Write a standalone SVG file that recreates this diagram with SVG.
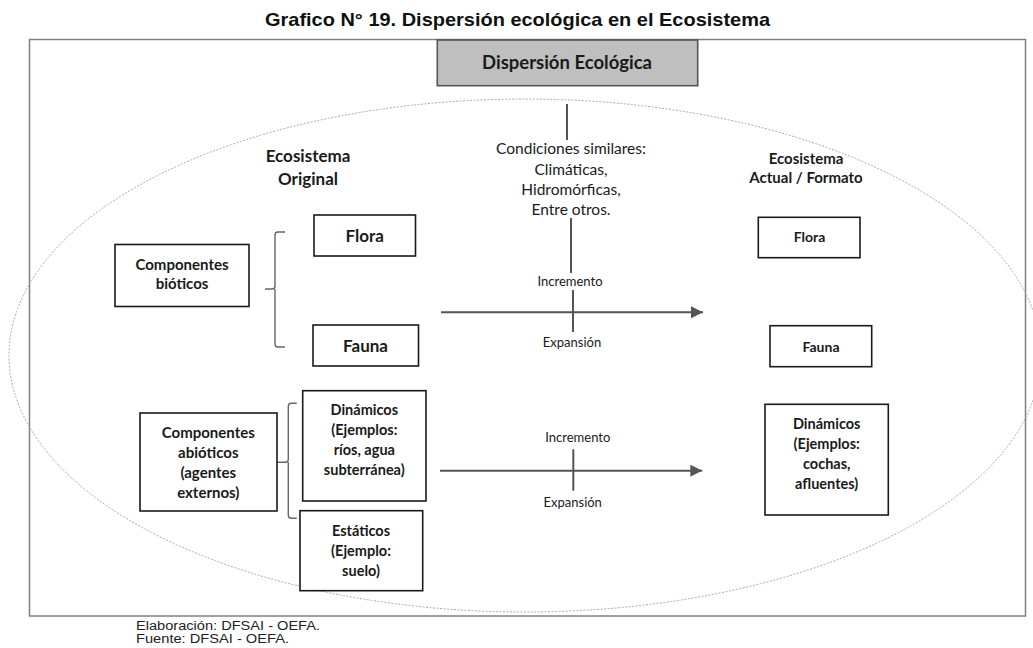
<svg xmlns="http://www.w3.org/2000/svg" width="1033" height="648" viewBox="0 0 1033 648">
<style>
.box{fill:#fff;stroke:#1a1a1a;stroke-width:1.6}
.hdr{fill:#bfbfbf;stroke:#555;stroke-width:1.6}
.b{font-family:Lato,"Open Sans",sans-serif;font-weight:bold;fill:#1a1a1a;text-anchor:middle}
.r{font-family:Lato,"Open Sans",sans-serif;fill:#1a1a1a;text-anchor:middle}
.ln{stroke:#555;stroke-width:2;fill:none}
.br{stroke:#666;stroke-width:1.4;fill:none}
.ttl{font-family:"Liberation Sans",Arial,sans-serif;font-weight:bold;fill:#111;text-anchor:middle}
.ft{font-family:"Liberation Sans",Arial,sans-serif;fill:#222}
</style>
<defs>
<marker id="ah" markerWidth="12" markerHeight="12" refX="12" refY="6" orient="auto" markerUnits="userSpaceOnUse">
<path d="M0,0 L12,6 L0,12 Z" fill="#555"/>
</marker>
</defs>
<rect width="1033" height="648" fill="#fff"/>
<text class="ttl" x="517.5" y="26" font-size="19" textLength="505" lengthAdjust="spacingAndGlyphs">Grafico N° 19. Dispersión ecológica en el Ecosistema</text>
<rect x="29.5" y="39.5" width="996" height="576.5" fill="none" stroke="#808080" stroke-width="1.5"/>
<ellipse cx="525" cy="355.5" rx="516" ry="256.5" fill="none" stroke="#a8a8a8" stroke-width="1" stroke-dasharray="2 1.5"/>

<g id="header">
<rect class="hdr" x="437.3" y="40" width="260.4" height="45.7"/>
<text class="b" x="567" y="69" font-size="18.5">Dispersión Ecológica</text>
</g>

<g id="connectors">
<line class="ln" x1="567" y1="104" x2="567" y2="140"/>
<line class="ln" x1="571" y1="218" x2="571" y2="273"/>
<line class="ln" x1="573" y1="290" x2="573" y2="332"/>
<line class="ln" x1="441" y1="312.3" x2="703" y2="312.3" marker-end="url(#ah)"/>
<line class="ln" x1="573.3" y1="449.3" x2="573.3" y2="490.7"/>
<line class="ln" x1="440" y1="470.7" x2="702.3" y2="470.7" marker-end="url(#ah)"/>
<path class="br" d="M285,232 H278 Q275,232 275,235 V286 Q275,289 272,289 H265 M275,289 V344 Q275,347 278,347 H285"/>
<path class="br" d="M296.7,403.3 H291.3 Q288.3,403.3 288.3,406.3 V459.3 Q288.3,462.3 285.3,462.3 H277 M288.3,462.3 V515.3 Q288.3,518.3 291.3,518.3 H296.7"/>
</g>

<g id="cond">
<text class="r" x="571" y="154" font-size="15.5">Condiciones similares:</text>
<text class="r" x="571" y="175" font-size="15.5">Climáticas,</text>
<text class="r" x="571" y="195" font-size="15.5">Hidromórficas,</text>
<text class="r" x="571" y="215" font-size="15.5">Entre otros.</text>
</g>
<g id="lbl1">
<text class="r" x="570" y="286" font-size="13">Incremento</text>
<text class="r" x="572" y="347" font-size="13">Expansión</text>
</g>
<g id="lbl2">
<text class="r" x="577.8" y="441.7" font-size="13">Incremento</text>
<text class="r" x="572.7" y="506.7" font-size="13">Expansión</text>
</g>

<g id="eco-original">
<text class="b" x="308" y="162" font-size="17">Ecosistema</text>
<text class="b" x="308" y="185" font-size="17">Original</text>
</g>
<g id="eco-actual">
<text class="b" x="806" y="164" font-size="15">Ecosistema</text>
<text class="b" x="806" y="183.3" font-size="15">Actual / Formato</text>
</g>

<g id="bioticos">
<rect class="box" x="115" y="244.5" width="134" height="62"/>
<text class="b" x="182" y="270" font-size="15">Componentes</text>
<text class="b" x="182" y="289.3" font-size="15">bióticos</text>
</g>
<g id="flora-l">
<rect class="box" x="314" y="215" width="101.5" height="41"/>
<text class="b" x="364.7" y="242" font-size="17">Flora</text>
</g>
<g id="fauna-l">
<rect class="box" x="313" y="325" width="105.5" height="41"/>
<text class="b" x="365.5" y="352" font-size="17">Fauna</text>
</g>
<g id="abioticos">
<rect class="box" x="140" y="413" width="137" height="98"/>
<text class="b" x="208.3" y="438.3" font-size="15">Componentes</text>
<text class="b" x="208.3" y="458.3" font-size="15">abióticos</text>
<text class="b" x="208.3" y="478.3" font-size="15">(agentes</text>
<text class="b" x="208.3" y="498.3" font-size="15">externos)</text>
</g>
<g id="dinamicos-l">
<rect class="box" x="302.7" y="390.7" width="123.3" height="110.3"/>
<text class="b" x="364.3" y="415" font-size="14.5">Dinámicos</text>
<text class="b" x="364.3" y="435" font-size="14.5">(Ejemplos:</text>
<text class="b" x="364.3" y="455" font-size="14.5">ríos, agua</text>
<text class="b" x="364.3" y="475" font-size="14.5">subterránea)</text>
</g>
<g id="estaticos">
<rect class="box" x="300" y="510.7" width="122.7" height="80"/>
<text class="b" x="361" y="535.7" font-size="14.5">Estáticos</text>
<text class="b" x="361" y="555.7" font-size="14.5">(Ejemplo:</text>
<text class="b" x="361" y="575.7" font-size="14.5">suelo)</text>
</g>
<g id="flora-r">
<rect class="box" x="758.3" y="217.3" width="101.7" height="40.4"/>
<text class="b" x="809.5" y="242" font-size="14">Flora</text>
</g>
<g id="fauna-r">
<rect class="box" x="770" y="325.7" width="101.7" height="41"/>
<text class="b" x="821" y="352" font-size="14">Fauna</text>
</g>
<g id="dinamicos-r">
<rect class="box" x="765" y="404.3" width="123.3" height="110.7"/>
<text class="b" x="826.7" y="429.3" font-size="14.5">Dinámicos</text>
<text class="b" x="826.7" y="449.3" font-size="14.5">(Ejemplos:</text>
<text class="b" x="826.7" y="469.3" font-size="14.5">cochas,</text>
<text class="b" x="826.7" y="489.3" font-size="14.5">afluentes)</text>
</g>

<text class="ft" x="136" y="629.5" font-size="12.5" textLength="184" lengthAdjust="spacingAndGlyphs">Elaboración: DFSAI - OEFA.</text>
<text class="ft" x="136" y="643" font-size="12.5" textLength="153" lengthAdjust="spacingAndGlyphs">Fuente: DFSAI - OEFA.</text>
</svg>
